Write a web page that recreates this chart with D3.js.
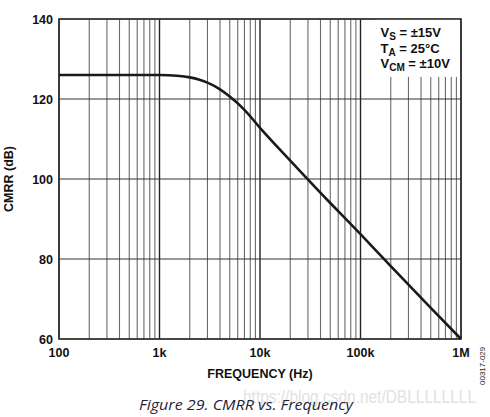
<!DOCTYPE html>
<html>
<head>
<meta charset="utf-8">
<script src="https://cdn.jsdelivr.net/npm/d3@7"></script>
<style>
  body { margin: 0; background: #fff; }
  svg text { font-family: "Liberation Sans", Arial, sans-serif; }
  .tick-label { font-size: 12.5px; font-weight: bold; fill: #111; }
  .axis-title { font-size: 12.5px; font-weight: bold; fill: #111; }
  .cond { font-size: 13px; font-weight: bold; fill: #111; }
</style>
</head>
<body>
<div id="chart"></div>
<script>
// CMRR vs frequency
var freqs = [100, 1000, 1500, 2000, 2500, 3000, 4000, 5000, 7000, 10000, 20000, 50000, 100000, 200000, 500000, 1000000];
var cmrr  = [126, 126, 125.8, 125.4, 124.8, 124.1, 122.4, 120.6, 117.3, 112.8, 104.6, 94, 86.2, 78.2, 67.8, 60];

var xTicks = [100, 1000, 10000, 100000, 1000000];
var xTickLabels = ["100", "1k", "10k", "100k", "1M"];
var yTicks = [60, 80, 100, 120, 140];

var conditions = [
    { main: "V", sub: "S", rest: " = \u00B115V" },
    { main: "T", sub: "A", rest: " = 25\u00B0C" },
    { main: "V", sub: "CM", rest: " = \u00B110V" }
];

var W = 490, H = 417;
var margin = { top: 19, right: 29, bottom: 78, left: 59 };
var width = W - margin.left - margin.right,
    height = H - margin.top - margin.bottom;

var svg = d3.select("#chart").append("svg")
    .attr("width", W)
    .attr("height", H);

var g = svg.append("g")
    .attr("transform", "translate(" + margin.left + "," + margin.top + ")");

var x = d3.scaleLog().domain([100, 1000000]).range([0, width]);
var y = d3.scaleLinear().domain([60, 140]).range([height, 0]);

// minor vertical grid (2..9 in each decade)
var minor = [];
for (var dec = 100; dec < 1000000; dec *= 10) {
    for (var m = 2; m <= 9; m++) minor.push(dec * m);
}
g.selectAll(".minor").data(minor).enter().append("line")
    .attr("class", "minor")
    .attr("x1", function(d) { return x(d); })
    .attr("x2", function(d) { return x(d); })
    .attr("y1", 0).attr("y2", height)
    .attr("stroke", "#6a6a6a")
    .attr("stroke-width", 1.1);

// major vertical grid
g.selectAll(".major").data(xTicks).enter().append("line")
    .attr("class", "major")
    .attr("x1", function(d) { return x(d); })
    .attr("x2", function(d) { return x(d); })
    .attr("y1", 0).attr("y2", height)
    .attr("stroke", "#222")
    .attr("stroke-width", 1.4);

// horizontal grid
g.selectAll(".hgrid").data(yTicks).enter().append("line")
    .attr("class", "hgrid")
    .attr("x1", 0).attr("x2", width)
    .attr("y1", function(d) { return y(d); })
    .attr("y2", function(d) { return y(d); })
    .attr("stroke", "#333")
    .attr("stroke-width", 1.1);

// conditions box (white patch over grid)
var boxLeft = x(100000) + 15;
var box = g.append("g").attr("transform", "translate(" + boxLeft + ",0)");
box.append("rect")
    .attr("x", 0).attr("y", 0)
    .attr("width", x(900000) - boxLeft + 2.5)
    .attr("height", 58)
    .attr("fill", "#fff");

var condText = box.selectAll("text").data(conditions).enter().append("text")
    .attr("class", "cond")
    .attr("x", 5)
    .attr("y", function(d, i) { return 18 + i * 15.6; });
condText.append("tspan").text(function(d) { return d.main; });
condText.append("tspan").attr("dy", 3).style("font-size", "10px").text(function(d) { return d.sub; });
condText.append("tspan").attr("dy", -3).text(function(d) { return d.rest; });

// frame
g.append("rect")
    .attr("width", width).attr("height", height)
    .attr("fill", "none")
    .attr("stroke", "#333")
    .attr("stroke-width", 1.6);

// curve
var line = d3.line()
    .x(function(d, i) { return x(freqs[i]); })
    .y(function(d) { return y(d); })
    .curve(d3.curveMonotoneX);

g.append("path")
    .datum(cmrr)
    .attr("d", line)
    .attr("fill", "none")
    .attr("stroke", "#1a1a1a")
    .attr("stroke-width", 2.6);

// tick labels
g.selectAll(".ylab").data(yTicks).enter().append("text")
    .attr("class", "tick-label")
    .attr("x", -6)
    .attr("y", function(d) { return y(d) + 4.5; })
    .attr("text-anchor", "end")
    .text(function(d) { return d; });

g.selectAll(".xlab").data(xTicks).enter().append("text")
    .attr("class", "tick-label")
    .attr("x", function(d) { return x(d); })
    .attr("y", height + 18)
    .attr("text-anchor", "middle")
    .text(function(d, i) { return xTickLabels[i]; });

// axis titles
g.append("text")
    .attr("class", "axis-title")
    .attr("x", x(10000))
    .attr("y", height + 39)
    .attr("text-anchor", "middle")
    .text("FREQUENCY (Hz)");

svg.append("text")
    .attr("class", "axis-title")
    .attr("transform", "translate(13," + (margin.top + y(100)) + ") rotate(-90)")
    .attr("text-anchor", "middle")
    .text("CMRR (dB)");

// figure code
svg.append("text")
    .attr("transform", "translate(485,385) rotate(-90)")
    .style("font-size", "8px")
    .attr("fill", "#222")
    .text("00317-029");

// watermark
svg.append("text")
    .attr("x", 243)
    .attr("y", 403)
    .style("font-size", "18px")
    .attr("fill", "#e2e2e2")
    .attr("textLength", 233)
    .attr("lengthAdjust", "spacingAndGlyphs")
    .text("https://blog.csdn.net/DBLLLLLLLL");

// caption
svg.append("text")
    .attr("x", 139)
    .attr("y", 410)
    .style("font-family", "'Open Sans', sans-serif")
    .style("font-style", "italic")
    .style("font-size", "14.5px")
    .attr("fill", "#1f1f3a")
    .attr("textLength", 214)
    .attr("lengthAdjust", "spacingAndGlyphs")
    .text("Figure 29. CMRR vs. Frequency");
</script>
</body>
</html>
